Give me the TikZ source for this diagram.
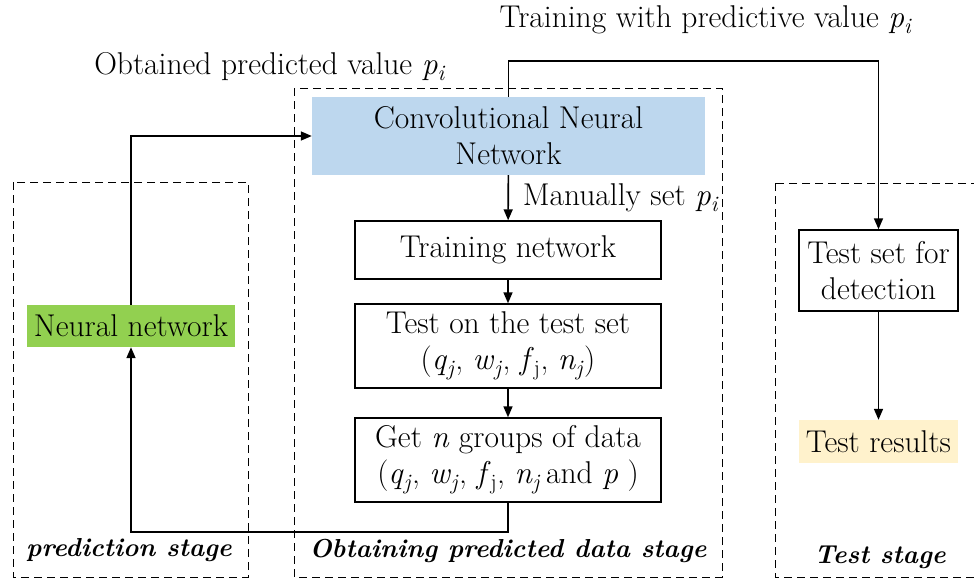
\documentclass[tikz,border=0pt]{standalone}
\usepackage{fontspec}
\usetikzlibrary{arrows.meta, positioning}

\definecolor{cnnblue}{HTML}{BDD7EE}
\definecolor{nngreen}{HTML}{92D050}
\definecolor{resyellow}{HTML}{FFF2CC}

\newcommand{\pval}{\textit{p}\textsubscript{\textit{i}}}
\newcommand{\sj}[1]{\textit{#1}\textsubscript{\textit{j}}}

\tikzset{
  stagebox/.style={draw, dashed, dash pattern=on 8pt off 5pt, line width=1pt},
  procbox/.style={draw, line width=1.4pt, inner sep=0pt, align=center, minimum width=306pt},
  link/.style={line width=1.6pt, -{Triangle[length=11pt, width=9pt]}},
  stagelabel/.style={font=\fontsize{26}{31}\selectfont\bfseries\itshape}
}

\begin{document}
\begin{tikzpicture}[x=1pt, y=-1pt, font=\fontsize{31.5}{36}\selectfont]
                        \useasboundingbox (0,0) rectangle (974,579);
                        % stages
                        \draw[stagebox] (13,182) rectangle (248,577);
                        \draw[stagebox] (294,88) rectangle (722,577);
                        \draw[stagebox] (775,183) rectangle (990,577);
                        \node[stagelabel] (predlab) at (129,550) {prediction stage};
                        \node[stagelabel] (obtlab) at (508,551) {Obtaining predicted data stage};
                        \node[stagelabel] (testlab) at (880,557) {Test stage};
                        % nodes
                        \node[fill=cnnblue, inner sep=0pt, align=center, minimum width=393pt, minimum height=78pt] (cnn) at (508.5,136) {Convolutional Neural\\Network};
                        \node[procbox, minimum height=58pt] (train) at (508,250) {Training network};
                        \node[procbox, minimum height=84pt] (testset) at (508,346) {Test on the test set\\(\sj{q}, \sj{w}, \textit{f}\textsubscript{j}, \sj{n})};
                        \node[procbox, minimum height=84pt] (getdata) at (508,460) {Get \textit{n} groups of data\\(\sj{q}, \sj{w}, \textit{f}\textsubscript{j}, \sj{n}\,and \textit{p} )};
                        \node[fill=nngreen, inner sep=0pt, minimum width=208pt, minimum height=42pt] (neural) at (131,326) {Neural network};
                        \node[procbox, minimum width=159pt, minimum height=81pt] (detect) at (878.5,270.5) {Test set for\\detection};
                        \node[fill=resyellow, inner sep=0pt, minimum width=159pt, minimum height=43pt] (results) at (878.5,441.5) {Test results};
                        % labels
                        \node (manual) at (621,198) {Manually set \pval};
                        \node (trainlab) at (706,20) {Training with predictive value \pval};
                        \node (obtval) at (270,67) {Obtained predicted value \pval};
                        % connectors
                        \draw[link] (cnn) -- (train);
                        \draw[link] (train) -- (testset);
                        \draw[link] (testset) -- (getdata);
                        \draw[link] (getdata.south) -- ++(0,29) -| (neural.south);
                        \draw[link] (neural.north) |- (cnn.west);
                        \draw[link] (cnn.north) -- ++(0,-36) -| (detect.north);
                        \draw[link] (detect) -- (results);
                    \end{tikzpicture}
\end{document}
